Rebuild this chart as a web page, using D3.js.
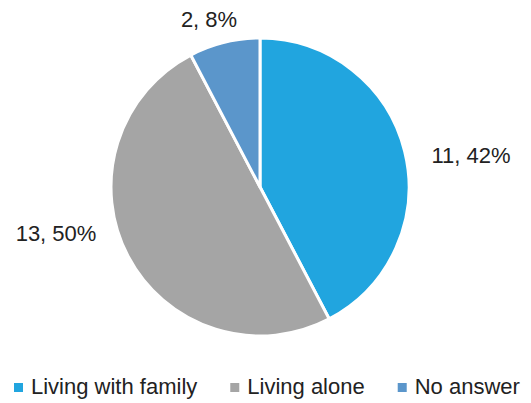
<!DOCTYPE html>
<meta charset="utf-8">
<style>
body {
  margin: 0;
  background: #fff;
  font-family: "Liberation Sans", Arial, Helvetica, sans-serif;
}
.label, .legend text {
  font-size: 22px;
  fill: #222;
}
</style>
<body>
<script src="https://cdn.jsdelivr.net/npm/d3@7/dist/d3.min.js"></script>
<script>

var width = 531,
    height = 403,
    radius = 149,
    cx = 260,
    cy = 187;

var categories = ["Living with family", "Living alone", "No answer"],
    counts = [11, 13, 2],
    percents = ["42%", "50%", "8%"];

var colors = ["#21a5df", "#a5a5a5", "#5b96cb"];

// where Excel dropped each data label, relative to the pie centre
var labelShift = [[211, -32], [-204, 46], [-51, -168]];

var svg = d3.select("body").append("svg")
    .attr("width", width)
    .attr("height", height);

var color = d3.scaleOrdinal()
    .domain(categories)
    .range(colors);

var pie = d3.pie()
    .sort(null)
    .value(function(d, i) { return counts[i]; });

var arc = d3.arc()
    .innerRadius(0)
    .outerRadius(radius);

var slices = pie(categories);

var g = svg.append("g")
    .attr("transform", "translate(" + cx + "," + cy + ")");

g.selectAll("path")
    .data(slices)
  .enter().append("path")
    .attr("d", arc)
    .attr("fill", function(d) { return color(d.data); })
    .attr("stroke", "#fff")
    .attr("stroke-width", 3)
    .attr("stroke-linejoin", "round");

g.selectAll(".label")
    .data(slices)
  .enter().append("text")
    .attr("class", "label")
    .attr("text-anchor", "middle")
    .attr("x", function(d, i) { return labelShift[i][0]; })
    .attr("y", function(d, i) { return labelShift[i][1] + 8; })
    .text(function(d, i) { return counts[i] + ", " + percents[i]; });

// legend, laid out left to right
var legend = svg.append("g")
    .attr("class", "legend")
    .attr("transform", "translate(14,394)");

var x = 0;
categories.forEach(function(c) {
  var item = legend.append("g").attr("transform", "translate(" + x + ",0)");
  item.append("rect")
      .attr("x", 0)
      .attr("y", -11)
      .attr("width", 9)
      .attr("height", 9)
      .attr("fill", color(c));
  var t = item.append("text")
      .attr("x", 17)
      .text(c);
  x += 17 + t.node().getComputedTextLength() + 33;
});

</script>
